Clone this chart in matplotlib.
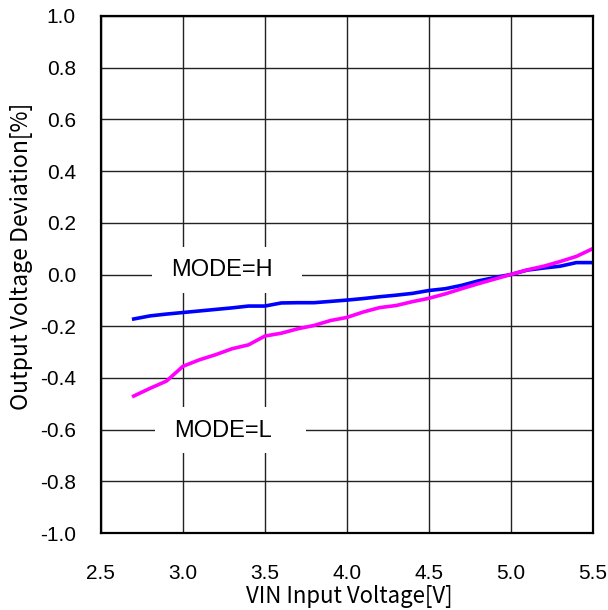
import matplotlib
matplotlib.use("Agg")
import matplotlib.pyplot as plt
from matplotlib.patches import Rectangle

vin = [2.7, 2.8, 2.9, 3.0, 3.1, 3.2, 3.3, 3.4, 3.5, 3.6, 3.7, 3.8, 3.9, 4.0, 4.1,
       4.2, 4.3, 4.4, 4.5, 4.6, 4.7, 4.8, 4.9, 5.0, 5.1, 5.2, 5.3, 5.4, 5.5]
mode_h = [-0.172, -0.160, -0.153, -0.147, -0.141, -0.135, -0.129, -0.122, -0.122,
          -0.110, -0.109, -0.109, -0.104, -0.099, -0.093, -0.086, -0.080, -0.073,
          -0.062, -0.055, -0.042, -0.025, -0.012, 0.0, 0.017, 0.025, 0.032, 0.046, 0.046]
mode_l = [-0.470, -0.440, -0.412, -0.355, -0.330, -0.310, -0.287, -0.272, -0.238,
          -0.227, -0.210, -0.197, -0.178, -0.166, -0.145, -0.128, -0.120, -0.105,
          -0.092, -0.075, -0.055, -0.036, -0.018, 0.0, 0.018, 0.032, 0.050, 0.070, 0.100]
xticks = [2.5, 3.0, 3.5, 4.0, 4.5, 5.0, 5.5]
yticks = [-1.0, -0.8, -0.6, -0.4, -0.2, 0.0, 0.2, 0.4, 0.6, 0.8, 1.0]

fig = plt.figure(figsize=(6.08, 6.10), dpi=100)
ax = fig.add_axes([0.166, 0.126, 0.809, 0.848])

ax.plot(vin, mode_h, color="#0000FF", lw=2.6, zorder=3)
ax.plot(vin, mode_l, color="#FF00FF", lw=2.6, zorder=3)

ax.set_xlim(2.5, 5.5)
ax.set_ylim(-1.0, 1.0)
ax.set_xticks(xticks)
ax.set_yticks(yticks)
ax.set_xticklabels([f"{v:.1f}" for v in xticks])
ax.set_yticklabels([f"{v:.1f}" for v in yticks])
ax.grid(True, color="#222222", lw=1.0)
ax.set_axisbelow(True)
ax.tick_params(length=0, labelsize=15)
ax.tick_params(axis="x", pad=22)
ax.tick_params(axis="y", pad=18)
for lab in ax.get_xticklabels() + ax.get_yticklabels():
    lab.set_fontfamily("Liberation Sans")
for s in ax.spines.values():
    s.set_linewidth(1.6)
    s.set_color("black")
    s.set_zorder(5)

lab_font = ["Noto Sans CJK JP", "DejaVu Sans"]
fig.text(349 / 608, 1 - 596 / 610, "VIN Input Voltage[V]", ha="center", va="center",
         fontsize=16, family=lab_font)
fig.text(22 / 608, 1 - 256 / 610, "Output Voltage Deviation[%]", ha="center", va="center",
         rotation=90, fontsize=16.5, family=lab_font)

# white label boxes interrupting the grid
ax.add_patch(Rectangle((2.81, -0.072), 0.915, 0.178, facecolor="white", edgecolor="none", zorder=2))
ax.add_patch(Rectangle((2.83, -0.69), 0.92, 0.178, facecolor="white", edgecolor="none", zorder=2))
ax.text(3.24, 0.017, "MODE=H", ha="center", va="center", fontsize=17, family="Liberation Sans", zorder=4)
ax.text(3.245, -0.604, "MODE=L", ha="center", va="center", fontsize=17, family="Liberation Sans", zorder=4)

fig.savefig("out.png", dpi=100)
